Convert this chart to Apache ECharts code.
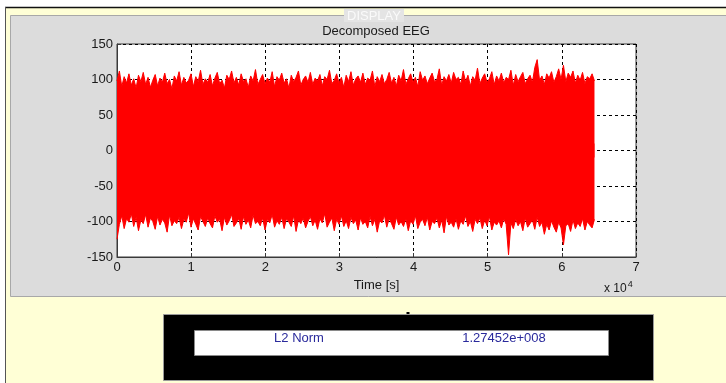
<!DOCTYPE html>
<html>
<head>
<meta charset="utf-8">
<script src="https://cdn.jsdelivr.net/npm/echarts@6/dist/echarts.min.js"></script>
<style>
  html, body { margin: 0; padding: 0; background: #ffffff; }
  #chart { width: 726px; height: 383px; }
</style>
</head>
<body>
<div id="chart"></div>
<script>
const chartTitle = 'Decomposed EEG'
const xTicks = [0, 1, 2, 3, 4, 5, 6, 7]
const yTicks = [-150, -100, -50, 0, 50, 100, 150]
const sampleSpacing = 322 // samples of the envelope, in s

// upper envelope of the signal
const upperEnv = [
  98, 112, 90, 104, 95, 108, 92, 101, 88, 106, 97, 110, 93, 103, 89, 99, 107, 91, 102, 96,
  109, 94, 100, 87, 105, 98, 111, 92, 103, 95, 99, 108, 90, 104, 97, 113, 93, 101, 96, 107,
  91, 102, 110, 94, 99, 88, 106, 100, 112, 95, 103, 92, 108, 97, 101, 89, 105, 98, 114, 93,
  100, 107, 94, 102, 96, 111, 90, 104, 99, 109, 95, 101, 88, 106, 97, 103, 112, 92, 100, 105,
  96, 110, 93, 102, 98, 107, 91, 104, 100, 113, 94, 99, 108, 95, 103, 89, 106, 97, 111, 92,
  101, 105, 96, 109, 93, 102, 99, 112, 90, 104, 97, 107, 94, 100, 110, 95, 103, 91, 106, 98,
  114, 93, 101, 108, 96, 103, 90, 111, 99, 105, 94, 102, 109, 97, 100, 115, 92, 104, 98, 107,
  95, 110, 100, 103, 93, 112, 97, 106, 91, 104, 99, 116, 94, 102, 108, 96, 101, 111, 93, 105,
  98, 109, 95, 103, 100, 113, 92, 107, 97, 104, 110, 94, 101, 106, 96, 117, 128, 99, 105, 93,
  108, 102, 111, 96, 104, 115, 100, 120, 97, 109, 103, 112, 95, 106, 99, 110, 94, 104, 101, 108, 98
]

// lower envelope of the signal
const lowerEnv = [
  -125, -104, -92, -110, -96, -101, -89, -107, -94, -113, -98, -103, -90, -108, -95, -100, -111, -93, -105, -97,
  -102, -115, -91, -106, -99, -103, -94, -110, -97, -101, -88, -108, -96, -104, -112, -93, -100, -107, -95, -103,
  -109, -92, -101, -97, -113, -94, -105, -99, -90, -107, -102, -96, -111, -93, -104, -98, -109, -91, -103, -100,
  -106, -95, -112, -97, -102, -90, -108, -99, -104, -94, -110, -96, -101, -107, -92, -114, -98, -103, -95, -109,
  -100, -93, -106, -98, -111, -96, -102, -89, -108, -101, -95, -113, -97, -104, -92, -107, -99, -110, -94, -103,
  -98, -112, -95, -104, -100, -109, -93, -106, -97, -115, -99, -102, -91, -108, -96, -103, -111, -94, -105, -100,
  -107, -96, -113, -99, -104, -92, -110, -101, -97, -106, -94, -112, -100, -103, -95, -109, -98, -116, -93, -105,
  -101, -108, -96, -111, -99, -104, -92, -107, -100, -114, -97, -103, -95, -110, -98, -106, -93, -112, -101, -105,
  -99, -109, -96, -104, -147, -102, -110, -97, -106, -100, -113, -95, -108, -103, -98, -111, -94, -107, -101, -118,
  -104, -112, -99, -108, -115, -101, -109, -133, -106, -103, -114, -98, -110, -102, -107, -96, -112, -100, -105, -109, -97
]

const normLabel = 'L2 Norm'
const normValue = '1.27452e+008'

const font = 'Arial, "Liberation Sans", Helvetica, sans-serif'
const upperData = upperEnv.map((v, i) => [i * sampleSpacing, v])
const lowerData = lowerEnv.map((v, i) => [i * sampleSpacing, v])

const myChart = echarts.init(document.getElementById('chart'))

const gridDash = {
  show: true,
  lineStyle: { color: '#000', type: [3, 3], width: 1 }
}

const option = {
  animation: false,
  textStyle: { fontFamily: font },
  grid: {
    left: 117, top: 44, width: 519, height: 213,
    show: true, backgroundColor: '#ffffff', borderColor: '#3a3a3a', borderWidth: 1
  },
  xAxis: {
    type: 'value',
    min: 0, max: 70000, interval: 10000,
    name: 'Time [s]',
    nameLocation: 'middle',
    nameGap: 20,
    nameTextStyle: { fontSize: 13, color: '#1a1a1a', fontFamily: font },
    axisLine: { show: true, onZero: false, lineStyle: { color: '#3a3a3a' } },
    axisTick: { show: true, inside: true, length: 4, lineStyle: { color: '#3a3a3a' } },
    axisLabel: {
      fontSize: 13, color: '#1a1a1a', margin: 4,
      formatter: v => String(xTicks[Math.round(v / 10000)])
    },
    splitLine: gridDash
  },
  yAxis: {
    type: 'value',
    min: -150, max: 150, interval: 50,
    axisLine: { show: true, onZero: false, lineStyle: { color: '#3a3a3a' } },
    axisTick: { show: true, inside: true, length: 4, lineStyle: { color: '#3a3a3a' } },
    axisLabel: {
      fontSize: 13, color: '#1a1a1a', margin: 4,
      formatter: v => yTicks.includes(v) ? String(v) : ''
    },
    splitLine: gridDash
  },
  graphic: [
    { type: 'rect', z: -20, shape: { x: 5, y: 7, width: 721, height: 376 }, style: { fill: '#ffffd6' } },
    { type: 'line', z: -19, shape: { x1: 5, y1: 7.5, x2: 726, y2: 7.5 }, style: { stroke: '#111', lineWidth: 1.5 } },
    { type: 'line', z: -19, shape: { x1: 5.5, y1: 7, x2: 5.5, y2: 383 }, style: { stroke: '#555', lineWidth: 1 } },
    { type: 'rect', z: -18, shape: { x: 10.5, y: 15.5, width: 720, height: 281 }, style: { fill: '#dcdcdc', stroke: '#a8a8a8', lineWidth: 1 } },
    { type: 'rect', z: -17, shape: { x: 344, y: 9, width: 60, height: 13 }, style: { fill: '#e4e4e4' } },
    {
      type: 'text', z: -16, x: 374, y: 16,
      style: { text: 'DISPLAY', fontSize: 13, fill: '#fafafa', fontFamily: font, align: 'center', verticalAlign: 'middle' }
    },
    {
      type: 'text', z: 5, x: 376, y: 31,
      style: { text: chartTitle, fontSize: 13, fill: '#1a1a1a', fontFamily: font, align: 'center', verticalAlign: 'middle' }
    },
    {
      type: 'text', z: 5, x: 604, y: 289,
      style: {
        text: '{a|x 10}{b|4}',
        fontFamily: font,
        verticalAlign: 'middle',
        rich: {
          a: { fontSize: 12, fill: '#1a1a1a', fontFamily: font },
          b: { fontSize: 9, fill: '#1a1a1a', fontFamily: font, verticalAlign: 'top', padding: [0, 0, 9, 1] }
        }
      }
    },
    { type: 'rect', z: 1, shape: { x: 406.5, y: 312, width: 3, height: 2 }, style: { fill: '#000' } },
    { type: 'rect', z: 1, shape: { x: 163.5, y: 314.5, width: 490, height: 66 }, style: { fill: '#000', stroke: '#9a9a9a', lineWidth: 1 } },
    { type: 'rect', z: 2, shape: { x: 194.5, y: 330.5, width: 414, height: 25 }, style: { fill: '#fff', stroke: '#8a8a8a', lineWidth: 1 } },
    {
      type: 'text', z: 3, x: 299, y: 338,
      style: { text: normLabel, fontSize: 13, fill: '#2a2a9c', fontFamily: font, align: 'center', verticalAlign: 'middle' }
    },
    {
      type: 'text', z: 3, x: 504, y: 338,
      style: { text: normValue, fontSize: 13, fill: '#2a2a9c', fontFamily: font, align: 'center', verticalAlign: 'middle' }
    }
  ],
  series: [
    {
      name: 'upper',
      type: 'line',
      data: upperData,
      symbol: 'none',
      lineStyle: { color: '#ff0000', width: 1 },
      areaStyle: { color: '#ff0000', opacity: 1, origin: -10 }
    },
    {
      name: 'lower',
      type: 'line',
      data: lowerData,
      symbol: 'none',
      lineStyle: { color: '#ff0000', width: 1 },
      areaStyle: { color: '#ff0000', opacity: 1, origin: 10 }
    }
  ]
}

option && myChart.setOption(option)
</script>
</body>
</html>
